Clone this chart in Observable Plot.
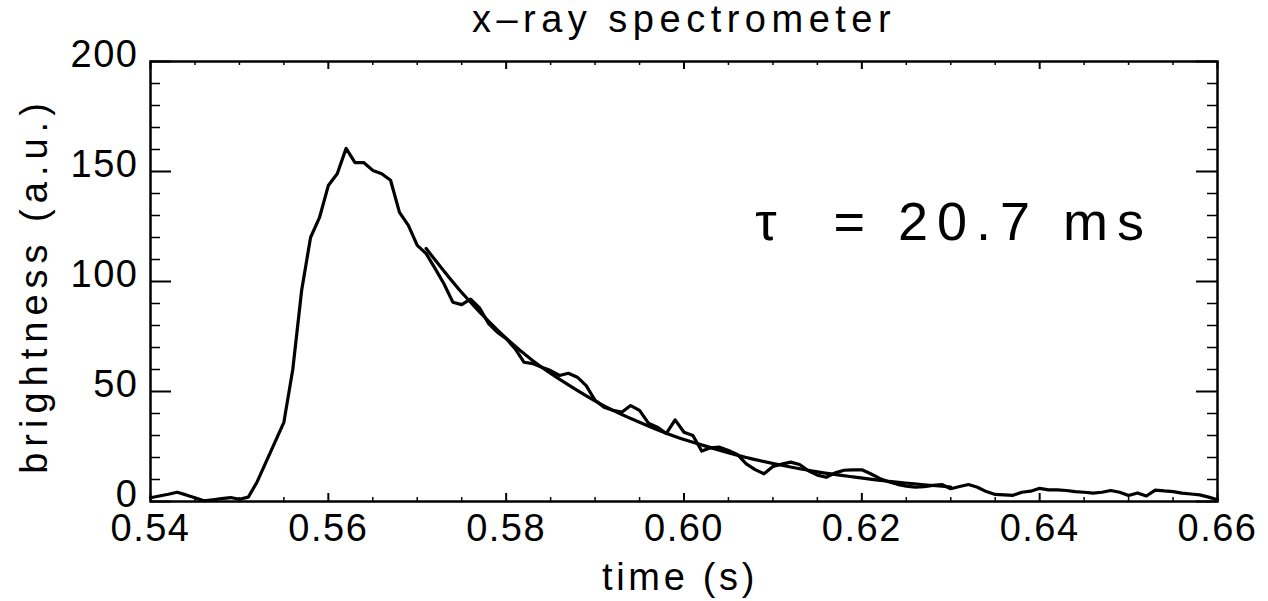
<!DOCTYPE html>
<html><head><meta charset="utf-8">
<script src="https://cdn.jsdelivr.net/npm/d3@7"></script>
<script src="https://cdn.jsdelivr.net/npm/@observablehq/plot@0.6"></script>
<style>body{margin:0;background:#fff} svg{display:block}</style>
</head><body><div id="chart"></div>
<script>
const times = [
0.540,0.541,0.542,0.543,0.544,0.545,0.546,0.547,0.548,0.549,
0.550,0.551,0.552,0.553,0.554,0.555,0.556,0.557,0.558,0.559,
0.560,0.561,0.562,0.563,0.564,0.565,0.566,0.567,0.568,0.569,
0.570,0.571,0.572,0.573,0.574,0.575,0.576,0.577,0.578,0.579,
0.580,0.581,0.582,0.583,0.584,0.585,0.586,0.587,0.588,0.589,
0.590,0.591,0.592,0.593,0.594,0.595,0.596,0.597,0.598,0.599,
0.600,0.601,0.602,0.603,0.604,0.605,0.606,0.607,0.608,0.609,
0.610,0.611,0.612,0.613,0.614,0.615,0.616,0.617,0.618,0.619,
0.620,0.621,0.622,0.623,0.624,0.625,0.626,0.627,0.628,0.629,
0.630,0.631,0.632,0.633,0.634,0.635,0.636,0.637,0.638,0.639,
0.640,0.641,0.642,0.643,0.644,0.645,0.646,0.647,0.648,0.649,
0.650,0.651,0.652,0.653,0.654,0.655,0.656,0.657,0.658,0.659,
0.660];
const brightness = [
1.7,2.5,3.3,4.2,3.0,1.7,0.3,0.8,1.3,1.8,
1.0,2.0,9,18,27,36,60,96,120,129,
143.6,149,160.5,154,154,150.5,149,146,131.4,125.5,
116.4,112.7,106,99,90.6,89.5,92,88,81,77,
74,69.5,63.3,62.7,61,59.5,57.3,58.3,56.5,52.7,
46,42.9,41.5,40.6,43.6,41.4,35.6,33.8,30.9,37.1,
31.5,30,22.9,24.4,24.7,23.2,21.4,17.1,14.5,12.6,
15.9,17,17.9,16.8,14,12,11,13,14.2,14.4,
14.4,12.6,10.5,9,7.8,7,6.5,6.8,7.3,7.7,
5.8,6.8,7.7,6.5,4.5,3.2,3.0,2.8,4.2,4.7,
6.0,5.3,5.3,5.0,4.5,4.2,3.8,4.2,5.0,4.2,
2.7,3.9,2.5,5.2,4.8,4.5,3.8,3.4,3.0,2.0,
0.8];
// exponential fit curve (tau = 20.7 ms)
const fitTimes  = [0.571,0.575,0.579,0.583,0.587,0.591,0.595,0.599,0.603,0.607,0.611,0.615,0.619,0.623,0.627,0.630];
const fitValues = [115,  95,   78,   64,   53,   43.5, 36,   29.5, 24.5, 20,   16.5, 13.5, 11.2, 9.2,  7.6,  6.6];

const xMajorTicks = [0.54,0.56,0.58,0.60,0.62,0.64,0.66];
const xMinorTicks = [0.545,0.55,0.555,0.565,0.57,0.575,0.585,0.59,0.595,0.605,0.61,0.615,0.625,0.63,0.635,0.645,0.65,0.655];
const yMajorTicks = [0,50,100,150,200];
const yMinorTicks = [10,20,30,40,60,70,80,90,110,120,130,140,160,170,180,190];

const title = "x\u2013ray spectrometer";
const xLabel = "time (s)";
const yLabel = "brightness (a.u.)";
const annotation = {t: 0.608, v: 126.5, text: "\u03c4  = 20.7 ms"};

const data = times.map((t, i) => ({t, v: brightness[i]}));
const fit = fitTimes.map((t, i) => ({t, v: fitValues[i]}));

const W = 1268, H = 601, mL = 150, mR = 51, mT = 61, mB = 100;
const iw = W - mL - mR, ih = H - mT - mB;

const chart = Plot.plot({
  width: W, height: H,
  marginLeft: mL, marginRight: mR, marginTop: mT, marginBottom: mB,
  style: {fontFamily: "'Liberation Sans', Arial, sans-serif", color: "#000", background: "#fff", overflow: "visible"},
  x: {domain: [0.54, 0.66]},
  y: {domain: [0, 200]},
  marks: [
    Plot.line(data, {x: "t", y: "v", stroke: "#000", strokeWidth: 3.2, strokeLinejoin: "round"}),
    Plot.line(fit, {x: "t", y: "v", stroke: "#000", strokeWidth: 3.2, curve: "monotone-x"}),
    Plot.frame({stroke: "#000", strokeWidth: 2.5}),
    // inward ticks
    Plot.tickX(xMajorTicks, {x: d => d, insetTop: ih - 8, stroke: "#000", strokeWidth: 2}),
    Plot.tickX(xMajorTicks, {x: d => d, insetBottom: ih - 8, stroke: "#000", strokeWidth: 2}),
    Plot.tickX(xMinorTicks, {x: d => d, insetTop: ih - 4, stroke: "#000", strokeWidth: 1.5}),
    Plot.tickX(xMinorTicks, {x: d => d, insetBottom: ih - 4, stroke: "#000", strokeWidth: 1.5}),
    Plot.tickY(yMajorTicks, {y: d => d, insetRight: iw - 21, stroke: "#000", strokeWidth: 2}),
    Plot.tickY(yMajorTicks, {y: d => d, insetLeft: iw - 21, stroke: "#000", strokeWidth: 2}),
    Plot.tickY(yMinorTicks, {y: d => d, insetRight: iw - 10, stroke: "#000", strokeWidth: 1.5}),
    Plot.tickY(yMinorTicks, {y: d => d, insetLeft: iw - 10, stroke: "#000", strokeWidth: 1.5}),
    Plot.axisX(xMajorTicks, {tickSize: 0, tickPadding: 13, fontSize: 38, tickFormat: d3.format(".2f"), label: null, ariaDescription: "xticks"}),
    Plot.axisY(yMajorTicks, {tickSize: 0, tickPadding: 12, dy: -7, fontSize: 38, label: null, ariaDescription: "yticks"}),
    Plot.text([title], {frameAnchor: "top", lineAnchor: "middle", dy: -42, fontSize: 38, fill: "#000", ariaDescription: "title"}),
    Plot.text([xLabel], {frameAnchor: "bottom", lineAnchor: "middle", dy: 76, dx: -4, fontSize: 38, fill: "#000", ariaDescription: "xlabel"}),
    Plot.text([yLabel], {frameAnchor: "left", textAnchor: "middle", lineAnchor: "middle", dx: -116, dy: 4, rotate: -90, fontSize: 38, fill: "#000", ariaDescription: "ylabel"}),
    Plot.text([annotation], {x: "t", y: "v", text: "text", textAnchor: "start", lineAnchor: "middle", fontSize: 54, fill: "#000", ariaDescription: "annot"})
  ]
});
const spacing = {title: 5.5, xlabel: 3.7, ylabel: 6, xticks: 1.5, yticks: 1.5, annot: 9};
for (const [k, s] of Object.entries(spacing)) {
  chart.querySelectorAll(`g[aria-description="${k}"] text`).forEach(t => {
    t.setAttribute("letter-spacing", s);
    t.setAttribute("xml:space", "preserve");
    t.style.whiteSpace = "pre";
  });
}
document.getElementById("chart").append(chart);
</script>
</body></html>
